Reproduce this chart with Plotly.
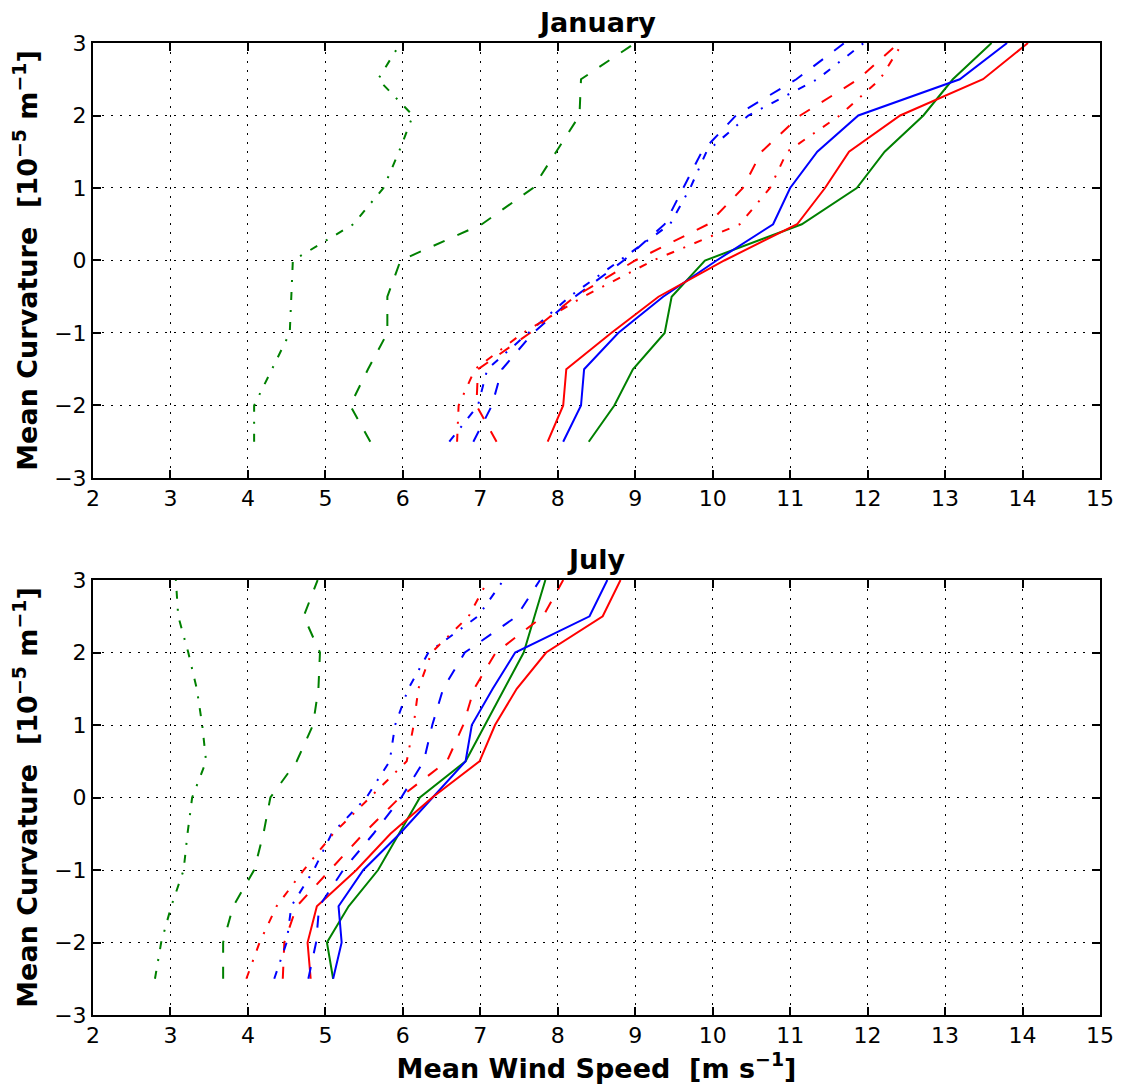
import plotly.graph_objects as go

# Curvature levels (y values shared by every series)
curvature = [-2.5, -2, -1.5, -1, -0.5, 0, 0.5, 1, 1.5, 2, 2.5, 3]

# January mean wind speed per curvature level
jan_green_solid = [8.40, 8.73, 8.97, 9.38, 9.47, 9.90, 11.15, 11.86, 12.22, 12.72, 13.10, 13.60]
jan_blue_solid = [8.07, 8.30, 8.34, 8.78, 9.36, 10.05, 10.78, 11.00, 11.35, 11.88, 13.19, 13.80]
jan_red_solid = [7.87, 8.07, 8.11, 8.69, 9.30, 10.15, 11.09, 11.45, 11.76, 12.42, 13.49, 14.07]
jan_green_dashed = [5.58, 5.32, 5.55, 5.80, 5.80, 5.97, 7.02, 7.68, 7.98, 8.28, 8.30, 9.00]
jan_green_dashdot = [4.08, 4.08, 4.31, 4.54, 4.56, 4.58, 5.36, 5.75, 5.95, 6.13, 5.68, 5.97]
jan_blue_dashed = [6.91, 7.15, 7.28, 7.68, 8.22, 8.85, 9.38, 9.62, 9.86, 10.30, 11.08, 11.70]
jan_blue_dashdot = [6.60, 6.97, 7.09, 7.62, 8.15, 8.80, 9.45, 9.71, 9.92, 10.46, 11.35, 11.95]
jan_red_dashed = [7.21, 6.95, 6.97, 7.64, 8.22, 9.00, 9.94, 10.39, 10.63, 11.13, 11.88, 12.40]
jan_red_dashdot = [6.70, 6.72, 6.93, 7.55, 8.33, 9.23, 10.35, 10.74, 10.96, 11.64, 12.16, 12.45]

# July mean wind speed per curvature level
jul_green_solid = [5.10, 5.02, 5.30, 5.68, 5.95, 6.22, 6.81, 7.06, 7.31, 7.56, 7.70, 7.84]
jul_blue_solid = [5.10, 5.21, 5.17, 5.49, 5.96, 6.39, 6.81, 6.89, 7.16, 7.45, 8.41, 8.64]
jul_red_solid = [4.81, 4.77, 4.89, 5.40, 5.84, 6.38, 6.99, 7.19, 7.47, 7.85, 8.58, 8.81]
jul_green_dashed = [3.68, 3.68, 3.81, 4.08, 4.20, 4.29, 4.63, 4.84, 4.91, 4.93, 4.72, 4.90]
jul_green_dashdot = [2.80, 2.88, 3.01, 3.17, 3.22, 3.28, 3.46, 3.41, 3.34, 3.23, 3.10, 3.07]
jul_blue_dashed = [4.78, 4.88, 4.92, 5.23, 5.62, 5.98, 6.27, 6.38, 6.52, 6.80, 7.47, 7.77]
jul_blue_dashdot = [4.34, 4.50, 4.56, 4.85, 5.08, 5.53, 5.83, 5.90, 6.07, 6.33, 6.97, 7.30]
jul_red_dashed = [4.45, 4.47, 4.63, 5.06, 5.49, 5.96, 6.57, 6.78, 6.92, 7.20, 7.81, 8.07]
jul_red_dashdot = [3.98, 4.15, 4.37, 4.72, 5.10, 5.58, 6.05, 6.14, 6.20, 6.37, 6.85, 7.10]

x_ticks = list(range(2, 16))
y_ticks = [-3, -2, -1, 0, 1, 2, 3]

GREEN, BLUE, RED = "#008000", "#0000ff", "#ff0000"
DASHED = "12px,14px"
DASHDOT = "8px,10px,2px,10px"

series = [
    (GREEN, "solid", jan_green_solid, jul_green_solid),
    (BLUE, "solid", jan_blue_solid, jul_blue_solid),
    (RED, "solid", jan_red_solid, jul_red_solid),
    (GREEN, DASHED, jan_green_dashed, jul_green_dashed),
    (BLUE, DASHED, jan_blue_dashed, jul_blue_dashed),
    (RED, DASHED, jan_red_dashed, jul_red_dashed),
    (GREEN, DASHDOT, jan_green_dashdot, jul_green_dashdot),
    (BLUE, DASHDOT, jan_blue_dashdot, jul_blue_dashdot),
    (RED, DASHDOT, jan_red_dashdot, jul_red_dashdot),
]

fig = go.Figure()
for color, dash, jan, jul in series:
    fig.add_trace(go.Scatter(x=jan, y=curvature, mode="lines", xaxis="x", yaxis="y",
                             line=dict(color=color, width=2, dash=dash), showlegend=False))
    fig.add_trace(go.Scatter(x=jul, y=curvature, mode="lines", xaxis="x2", yaxis="y2",
                             line=dict(color=color, width=2, dash=dash), showlegend=False))

FONT = "DejaVu Sans"
common = dict(
    ticks="inside", ticklen=8, tickwidth=1.5, tickcolor="black",
    showline=True, linecolor="black", linewidth=2, mirror="ticks",
    showgrid=True, gridcolor="black", gridwidth=1, griddash="2px,7px",
    zeroline=False, tickfont=dict(family=FONT, size=22, color="black"),
)
ytitle = dict(text="<b>Mean Curvature\u00a0 [10<sup>\u22125</sup> m<sup>\u22121</sup>]</b>",
              font=dict(family=FONT, size=27, color="black"), standoff=10)

# the page body adds an 8px offset, so the figure is 8px smaller than the window
fig.update_layout(
    width=1115, height=1080,
    margin=dict(l=85, r=23, t=35, b=73, autoexpand=False),
    paper_bgcolor="white", plot_bgcolor="white",
    showlegend=False,
    xaxis=dict(domain=[0, 1], anchor="y", range=[2, 15], tickvals=x_ticks, **common),
    yaxis=dict(domain=[0.5525, 1], anchor="x", range=[-3, 3], tickvals=y_ticks, title=ytitle, **common),
    xaxis2=dict(domain=[0, 1], anchor="y2", range=[2, 15], tickvals=x_ticks,
                title=dict(text="<b>Mean Wind Speed\u00a0 [m s<sup>\u22121</sup>]</b>",
                           font=dict(family=FONT, size=27, color="black"), standoff=10),
                **common),
    yaxis2=dict(domain=[0, 0.4475], anchor="x2", range=[-3, 3], tickvals=y_ticks, title=ytitle, **common),
    annotations=[
        dict(text="<b>January</b>", x=0.5, y=1, xref="paper", yref="paper", xanchor="center",
             yanchor="bottom", yshift=3, showarrow=False, font=dict(family=FONT, size=27, color="black")),
        dict(text="<b>July</b>", x=0.5, y=0.4475, xref="paper", yref="paper", xanchor="center",
             yanchor="bottom", yshift=3, showarrow=False, font=dict(family=FONT, size=27, color="black")),
    ],
)

fig.write_html("out.html")
